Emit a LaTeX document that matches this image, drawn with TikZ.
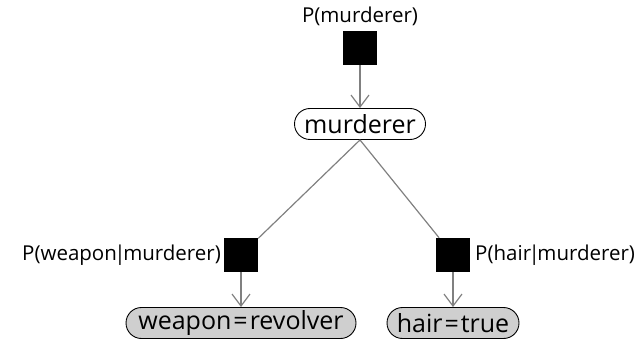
\documentclass[tikz,border=0pt]{standalone}
\usepackage{fontspec}
\setmainfont{Open Sans}
\usetikzlibrary{shapes.misc,arrows.meta}
% tighter vertical bar and roomier equals sign
\newcommand{\given}{\kern-2.5pt|\kern-2.5pt}
\newcommand{\eqs}{\kern2pt=\kern2pt}
\begin{document}
\begin{tikzpicture}[x=1pt,y=-1pt,
  factor/.style={draw=none,fill=black,minimum width=34pt,minimum height=34pt,inner sep=0pt},
  varnode/.style={rounded rectangle,draw=black,line width=0.9pt,minimum height=31pt,inner xsep=2pt,inner ysep=0pt,font=\fontsize{25}{25}\selectfont},
  observed/.style={varnode,fill=black!19},
  flabel/.style={inner sep=0pt,font=\fontsize{20.5}{22}\selectfont},
  edge/.style={draw=black!50,line width=1.2pt},
  dir/.style={edge,-{Straight Barb[length=12pt,width=18pt,line width=1.2pt]}}]
\useasboundingbox (0,0) rectangle (640,350);
% factors
\node[factor] (fm) at (360,48) {};
\node[factor] (fw) at (241,255) {};
\node[factor] (fh) at (453,255) {};
% variables
\node[varnode,minimum width=135pt] (m) at (360,124) {murderer};
\node[observed,minimum width=234pt] (w) at (241,323) {weapon\eqs revolver};
\node[observed,minimum width=136pt] (h) at (453,323) {hair\eqs true};
% factor labels
\node[flabel,anchor=south] (lm) at (360,26) {P(murderer)};
\node[flabel,anchor=east] (lw) at (221,255) {P(weapon\given murderer)};
\node[flabel,anchor=west] (lh) at (475,255) {P(hair\given murderer)};
% connectors
\draw[dir] (fm) -- (m);
\draw[edge] (m.south) -- (fw);
\draw[edge] (m.south) -- (fh);
\draw[dir] (fw) -- (w);
\draw[dir] (fh) -- (h);
\end{tikzpicture}
\end{document}
